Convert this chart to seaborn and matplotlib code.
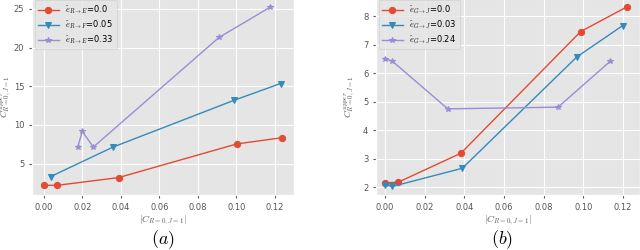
import matplotlib
matplotlib.use('Agg')
import matplotlib.pyplot as plt
import seaborn as sns
import pandas as pd

# panel (a)
a_red_x = [0.0, 0.0069, 0.0388, 0.1003, 0.1238]
a_red_y = [2.2, 2.2, 3.2, 7.55, 8.35]
a_blue_x = [0.0035, 0.036, 0.099, 0.123]
a_blue_y = [3.33, 7.15, 13.2, 15.35]
a_purple_x = [0.0176, 0.0199, 0.0257, 0.091, 0.1175]
a_purple_y = [7.15, 9.16, 7.15, 21.3, 25.2]
a_labels = [r'$\hat{e}_{R\rightarrow E}$=0.0', r'$\hat{e}_{R\rightarrow F}$=0.05',
            r'$\hat{e}_{R\rightarrow E}$=0.33']

# panel (b)
b_red_x = [0.0, 0.0066, 0.0382, 0.0986, 0.1217]
b_red_y = [2.15, 2.17, 3.19, 7.47, 8.33]
b_blue_x = [0.0, 0.0036, 0.0389, 0.0967, 0.1198]
b_blue_y = [2.08, 2.02, 2.66, 6.58, 7.68]
b_purple_x = [0.0, 0.0036, 0.0316, 0.0872, 0.1134]
b_purple_y = [6.51, 6.43, 4.75, 4.81, 6.42]
b_labels = [r'$\hat{e}_{G\rightarrow J}$=0.0', r'$\hat{e}_{G\rightarrow J}$=0.03',
            r'$\hat{e}_{G\rightarrow J}$=0.24']

plt.style.use('ggplot')
plt.rcParams['font.family'] = ['DejaVu Sans']
plt.rcParams['mathtext.fontset'] = 'cm'

colors = ['#E24A33', '#348ABD', '#988ED5']
markers = ['o', 'v', '*']
msizes = [4.5, 4.5, 4]

fig = plt.figure(figsize=(6.4, 2.5), dpi=100)
ax1 = fig.add_axes([32/640, 55/250, 262/640, 197/250])
ax2 = fig.add_axes([376/640, 55/250, 264/640, 197/250])


def draw(ax, xs, ys, labels):
    for x, y, lab, c, m, ms in zip(xs, ys, labels, colors, markers, msizes):
        df = pd.DataFrame({'x': x, 'y': y})
        sns.lineplot(data=df, x='x', y='y', ax=ax, color=c, marker=m, markersize=ms,
                     markeredgecolor=c, linewidth=1, label=lab)
    ax.tick_params(labelsize=6, colors='#555555', length=2)
    ax.set_xlabel(r'$|C_{R=0,J=1}|$', fontsize=7, color='#555555', labelpad=1)
    ax.set_ylabel(r'$C^{upper}_{R=0,J=1}$', fontsize=7, color='#555555')
    ax.legend(loc='upper left', fontsize=6, handlelength=2.5, borderaxespad=0.3,
              labelspacing=0.3, borderpad=0.4)


draw(ax1, [a_red_x, a_blue_x, a_purple_x], [a_red_y, a_blue_y, a_purple_y], a_labels)
draw(ax2, [b_red_x, b_blue_x, b_purple_x], [b_red_y, b_blue_y, b_purple_y], b_labels)

ax1.set_xlim(-0.0062, 0.13)
ax1.set_ylim(0.95, 26.4)
ax1.set_xticks([0.0, 0.02, 0.04, 0.06, 0.08, 0.10, 0.12])
ax1.set_yticks([5, 10, 15, 20, 25])
ax2.set_xlim(-0.0046, 0.1285)
ax2.set_ylim(1.72, 8.65)
ax2.set_xticks([0.0, 0.02, 0.04, 0.06, 0.08, 0.10, 0.12])
ax1.yaxis.set_label_coords(-0.068, 0.5)
ax2.yaxis.set_label_coords(-0.068, 0.5)

fig.text(163/640, 1 - 240/250, r'$(a)$', fontsize=13, ha='center', va='center')
fig.text(502/640, 1 - 240/250, r'$(b)$', fontsize=13, ha='center', va='center')

fig.savefig('out.png', dpi=100)
plt.close()
